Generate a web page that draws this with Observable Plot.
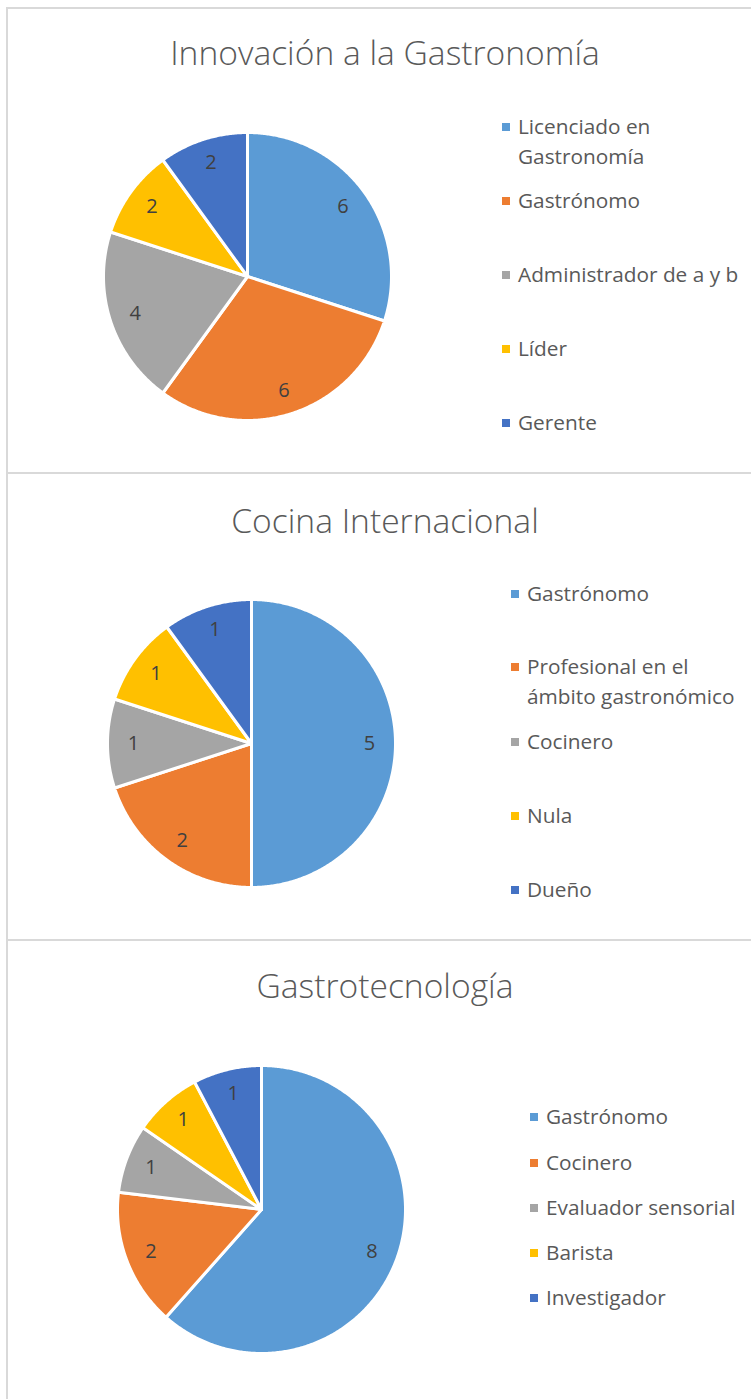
<!DOCTYPE html>
<html>
<head>
<meta charset="utf-8">
<script src="https://cdn.jsdelivr.net/npm/d3@7"></script>
<script src="https://cdn.jsdelivr.net/npm/@observablehq/plot@0.6"></script>
<style>
  html, body { margin: 0; padding: 0; background: #fff; }
  #page { position: relative; width: 751px; height: 1399px; overflow: hidden; font-family: "Open Sans", sans-serif; }
  .panel { position: absolute; box-sizing: border-box; border: 2px solid #d9d9d9; }
  .title { position: absolute; left: 0; width: 770px; text-align: center; font-weight: 300; font-size: 33.6px; line-height: 34px; color: #595959; white-space: nowrap; }
  .leg { position: absolute; font-size: 20.8px; line-height: 29.5px; color: #595959; white-space: nowrap; }
  .sw { position: absolute; width: 8px; height: 8px; }
  svg.pie { position: absolute; }
</style>
</head>
<body>
<div id="page"></div>
<script>
// ---- data ----
const colors = ["#5B9BD5", "#ED7D31", "#A5A5A5", "#FFC000", "#4472C4"];

const title1 = "Innovación a la Gastronomía";
const cats1 = ["Licenciado en Gastronomía", "Gastrónomo", "Administrador de a y b", "Líder", "Gerente"];
const vals1 = [6, 6, 4, 2, 2];

const title2 = "Cocina Internacional";
const cats2 = ["Gastrónomo", "Profesional en el ámbito gastronómico", "Cocinero", "Nula", "Dueño"];
const vals2 = [5, 2, 1, 1, 1];

const title3 = "Gastrotecnología";
const cats3 = ["Gastrónomo", "Cocinero", "Evaluador sensorial", "Barista", "Investigador"];
const vals3 = [8, 2, 1, 1, 1];

// legend line breaks as in the original
const wraps = {
  "Licenciado en Gastronomía": ["Licenciado en", "Gastronomía"],
  "Profesional en el ámbito gastronómico": ["Profesional en el", "ámbito gastronómico"]
};

// ---- layout (page pixels) ----
const layout = [
  {title: title1, cats: cats1, vals: vals1, panel: [6, 7, 800, 467], titleTop: 35, cx: 246.5, cy: 275.5,
   swX: 502, txX: 518, legY: [127, 201, 275, 349, 423]},
  {title: title2, cats: cats2, vals: vals2, panel: [6, 472, 800, 469], titleTop: 503, cx: 250.5, cy: 742.5,
   swX: 511, txX: 527, legY: [594, 667, 742, 816, 890]},
  {title: title3, cats: cats3, vals: vals3, panel: [6, 939, 800, 500], titleTop: 968, cx: 260.5, cy: 1208.5,
   swX: 530, txX: 546, legY: [1117, 1163, 1208, 1253, 1298]}
];

const page = document.getElementById("page");

function piePlot(cats, vals) {
  const arcs = d3.pie().sort(null).value(d => d)(vals);
  const pts = [];
  arcs.forEach((a, i) => {
    const cat = cats[i];
    pts.push({x: 0, y: 0, cat});
    const n = Math.max(2, Math.ceil((a.endAngle - a.startAngle) / (Math.PI / 360)));
    for (let k = 0; k <= n; k++) {
      const t = a.startAngle + (a.endAngle - a.startAngle) * k / n;
      pts.push({x: Math.sin(t), y: Math.cos(t), cat});
    }
    pts.push({x: 0, y: 0, cat});
  });
  const labels = arcs.map((a, i) => {
    const m = (a.startAngle + a.endAngle) / 2;
    return {x: 0.82 * Math.sin(m), y: 0.83 * Math.cos(m), v: vals[i]};
  });
  return Plot.plot({
    width: 300, height: 300, margin: 6,
    style: {fontFamily: "Open Sans", background: "transparent"},
    x: {domain: [-1, 1], axis: null},
    y: {domain: [-1, 1], axis: null},
    color: {domain: cats, range: colors},
    marks: [
      Plot.line(pts, {x: "x", y: "y", z: "cat", fill: "cat", stroke: "white", strokeWidth: 3, strokeLinejoin: "round"}),
      Plot.text(labels, {x: "x", y: "y", text: "v", fontSize: 20, fill: "#404040", fontFamily: "Open Sans"})
    ]
  });
}

layout.forEach(L => {
  const p = document.createElement("div");
  p.className = "panel";
  p.style.left = L.panel[0] + "px"; p.style.top = L.panel[1] + "px";
  p.style.width = L.panel[2] + "px"; p.style.height = L.panel[3] + "px";
  page.appendChild(p);

  const t = document.createElement("div");
  t.className = "title";
  t.textContent = L.title;
  t.style.top = L.titleTop + "px";
  page.appendChild(t);

  const svg = piePlot(L.cats, L.vals);
  svg.classList.add("pie");
  svg.style.left = (L.cx - 150) + "px";
  svg.style.top = (L.cy - 150) + "px";
  page.appendChild(svg);

  L.cats.forEach((c, i) => {
    const y = L.legY[i];
    const sw = document.createElement("div");
    sw.className = "sw";
    sw.style.background = colors[i];
    sw.style.left = L.swX + "px";
    sw.style.top = (y - 4) + "px";
    page.appendChild(sw);
    const lines = wraps[c] || [c];
    const tx = document.createElement("div");
    tx.className = "leg";
    tx.style.left = L.txX + "px";
    tx.style.top = (y - 15) + "px";
    tx.innerHTML = lines.map(s => s.replace(/&/g, "&amp;")).join("<br>");
    page.appendChild(tx);
  });
});
</script>
</body>
</html>
